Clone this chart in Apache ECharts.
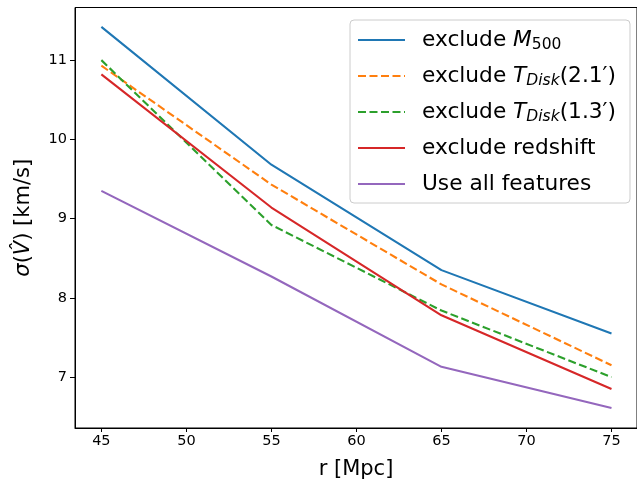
<!DOCTYPE html>
<html>
<head>
<meta charset="utf-8">
<script src="https://cdn.jsdelivr.net/npm/echarts@6/dist/echarts.min.js"></script>
<style>html,body{margin:0;padding:0;background:#fff}#c{width:637px;height:485px}</style>
</head>
<body>
<div id="c"></div>
<script>
const r = [45, 55, 65, 75];
const excludeM500 = [11.42, 9.68, 8.35, 7.55];
const excludeTDisk21 = [10.93, 9.43, 8.17, 7.15];
const excludeTDisk13 = [11.00, 8.92, 7.84, 7.00];
const excludeRedshift = [10.82, 9.14, 7.78, 6.85];
const useAll = [9.35, 8.27, 7.13, 6.61];
const xTicks = [45, 50, 55, 60, 65, 70, 75];
const yTicks = [7, 8, 9, 10, 11];

const seriesDefs = [
  {id: 'm500', data: excludeM500, color: '#1f77b4', dash: 'solid',
   label: 'exclude {it|M}{sub|500}'},
  {id: 't21', data: excludeTDisk21, color: '#ff7f0e', dash: [8, 3.5],
   label: 'exclude {it|T}{subit|Disk}(2.1′)'},
  {id: 't13', data: excludeTDisk13, color: '#2ca02c', dash: [8, 3.5],
   label: 'exclude {it|T}{subit|Disk}(1.3′)'},
  {id: 'z', data: excludeRedshift, color: '#d62728', dash: 'solid',
   label: 'exclude redshift'},
  {id: 'all', data: useAll, color: '#9467bd', dash: 'solid',
   label: 'Use all features'}
];
const labelMap = {};
seriesDefs.forEach(s => labelMap[s.id] = s.label);

const font = 'DejaVu Sans';
const lf = 21.7;
const chart = echarts.init(document.getElementById('c'), null, {renderer: 'canvas'});
chart.setOption({
  animation: false,
  backgroundColor: '#fff',
  grid: {left: 75, right: -2, top: 7.5, bottom: 55.7, show: true, borderColor: '#000', borderWidth: 1, backgroundColor: 'transparent'},
  xAxis: {
    type: 'value', min: 43.45, max: 76.5,
    name: 'r [Mpc]', nameLocation: 'middle', nameGap: 31,
    nameTextStyle: {fontFamily: font, fontSize: 21, color: '#000'},
    axisLine: {lineStyle: {color: '#000', width: 1}},
    axisTick: {show: true, length: 4, lineStyle: {color: '#000'}, customValues: xTicks},
    axisLabel: {fontFamily: font, fontSize: 14.5, color: '#000', margin: 6, customValues: xTicks},
    splitLine: {show: false}
  },
  yAxis: {
    type: 'value', min: 6.358, max: 11.664,
    name: '{it|σ}({it|V̂}) [km/s]', nameLocation: 'middle', nameGap: 41, nameRotate: 90,
    nameTextStyle: {fontFamily: font, fontSize: 21, color: '#000',
      rich: {it: {fontFamily: font, fontSize: 21, fontStyle: 'italic', color: '#000'}}},
    axisLine: {show: true, lineStyle: {color: '#000', width: 1}},
    axisTick: {show: true, length: 5, lineStyle: {color: '#000'}, customValues: yTicks},
    axisLabel: {fontFamily: font, fontSize: 14.5, color: '#000', margin: 8, customValues: yTicks},
    splitLine: {show: false}
  },
  legend: {
    orient: 'vertical', left: 350, top: 20,
    padding: [7, 14, 6, 7],
    itemWidth: 47, itemHeight: 14, itemGap: 10,
    backgroundColor: 'rgba(255,255,255,0.8)',
    borderColor: '#cccccc', borderWidth: 1, borderRadius: 4,
    itemStyle: {opacity: 0},
    data: seriesDefs.map(s => s.id),
    formatter: name => labelMap[name],
    textStyle: {
      fontFamily: font, fontSize: lf, color: '#000', lineHeight: 26, padding: [0, 0, 0, 12],
      rich: {
        it: {fontFamily: font, fontSize: lf, fontStyle: 'italic', color: '#000', lineHeight: 26},
        sub: {fontFamily: font, fontSize: 15.5, color: '#000', verticalAlign: 'bottom', lineHeight: 15},
        subit: {fontFamily: font, fontSize: 15.5, fontStyle: 'italic', color: '#000', verticalAlign: 'bottom', lineHeight: 15}
      }
    }
  },
  series: seriesDefs.map(s => ({
    id: s.id, name: s.id, type: 'line',
    data: r.map((x, i) => [x, s.data[i]]),
    symbol: 'none', showSymbol: false,
    lineStyle: {color: s.color, width: 2.1, type: s.dash},
    itemStyle: {color: s.color},
    z: 2
  }))
});
</script>
</body>
</html>
